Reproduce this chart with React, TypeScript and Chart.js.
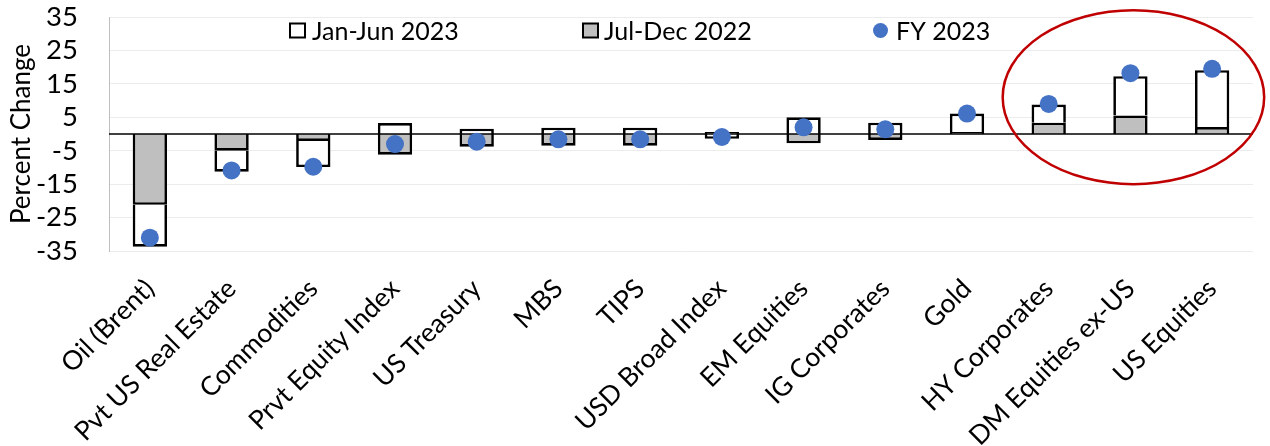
import React, { useEffect, useRef } from 'react';
import { Chart, registerables } from 'chart.js';

Chart.register(...registerables);

// ---- data ----
const categories = [
  'Oil (Brent)',
  'Pvt US Real Estate',
  'Commodities',
  'Prvt Equity Index',
  'US Treasury',
  'MBS',
  'TIPS',
  'USD Broad Index',
  'EM Equities',
  'IG Corporates',
  'Gold',
  'HY Corporates',
  'DM Equities ex-US',
  'US Equities',
];
const julDec2022 = [-21.2, -5.0, -2.1, -6.2, -3.8, -3.5, -3.5, 0.6, -2.8, -1.8, 0.6, 3.4, 5.5, 2.1];
const janJun2023 = [-12.5, -6.3, -7.8, 3.3, 1.6, 1.9, 1.9, -1.4, 5.0, 3.4, 5.5, 5.4, 11.8, 17.0];
const fy2023 = [-31.0, -10.9, -9.8, -3.0, -2.3, -1.6, -1.6, -0.9, 2.0, 1.4, 6.1, 9.0, 18.2, 19.5];
const yTickValues = [-35, -25, -15, -5, 5, 15, 25, 35];
const seriesNames = ['Jan-Jun 2023', 'Jul-Dec 2022', 'FY 2023'];
const axisTitle = 'Percent Change';
// highlighted group (index range)
const highlightFrom = 11;
const highlightTo = 13;

const FONT = 'Lato, "Open Sans", sans-serif';
const FS = 25;
const GREY = '#BFBFBF';
const BLUE = '#4472C4';

const zeroLinePlugin = {
  id: 'zeroLine',
  afterDatasetDraw(chart: any, args: any) {
    if (args.index !== 0) return;
    const { ctx, chartArea } = chart;
    const y = chart.scales.y.getPixelForValue(0);
    ctx.save();
    ctx.strokeStyle = '#000';
    ctx.lineWidth = 1.6;
    ctx.beginPath();
    ctx.moveTo(chartArea.left, y);
    ctx.lineTo(chartArea.right, y);
    ctx.stroke();
    ctx.restore();
  },
};

const overlayPlugin = {
  id: 'overlay',
  afterDraw(chart: any) {
    const { ctx, chartArea } = chart;
    const xs = chart.scales.x;
    const ys = chart.scales.y;
    ctx.save();
    // legend
    ctx.font = `${FS}px ${FONT}`;
    ctx.textBaseline = 'middle';
    ctx.textAlign = 'left';
    const cy = chartArea.top + 13.5;
    const starts = [289, 582, 873];
    ctx.lineWidth = 2;
    ctx.strokeStyle = '#000';
    ctx.fillStyle = '#fff';
    ctx.fillRect(starts[0] + 1, cy - 7, 15, 14);
    ctx.strokeRect(starts[0] + 1, cy - 7, 15, 14);
    ctx.fillStyle = '#000';
    ctx.fillText(seriesNames[0], starts[0] + 23, cy + 1);
    ctx.fillStyle = GREY;
    ctx.fillRect(starts[1] + 1, cy - 7, 15, 14);
    ctx.strokeRect(starts[1] + 1, cy - 7, 15, 14);
    ctx.fillStyle = '#000';
    ctx.fillText(seriesNames[1], starts[1] + 22, cy + 1);
    ctx.fillStyle = BLUE;
    ctx.beginPath();
    ctx.arc(starts[2] + 7.5, cy, 7.5, 0, Math.PI * 2);
    ctx.fill();
    ctx.fillStyle = '#000';
    ctx.fillText(seriesNames[2], starts[2] + 23, cy + 1);

    // red ellipse around highlighted group
    const step = xs.getPixelForValue(1) - xs.getPixelForValue(0);
    const cx = (xs.getPixelForValue(highlightFrom) + xs.getPixelForValue(highlightTo)) / 2 + 3;
    const rx = ((highlightTo - highlightFrom) / 2 + 0.6) * step;
    const ecy = ys.getPixelForValue(11);
    const ry = ys.getPixelForValue(0) - ys.getPixelForValue(26);
    ctx.strokeStyle = '#C00000';
    ctx.lineWidth = 2.5;
    ctx.beginPath();
    ctx.ellipse(cx, ecy, rx, ry, 0, 0, Math.PI * 2);
    ctx.stroke();
    ctx.restore();
  },
};

export default function App() {
  const ref = useRef<HTMLCanvasElement>(null);

  useEffect(() => {
    if (!ref.current) return;
    Chart.defaults.font.family = FONT;
    Chart.defaults.color = '#000';
    const chart = new Chart(ref.current, {
      type: 'bar',
      data: {
        labels: categories,
        datasets: [
          {
            type: 'bar',
            label: seriesNames[1],
            data: julDec2022,
            backgroundColor: GREY,
            borderColor: '#000',
            borderWidth: 2.7,
            stack: 's',
            order: 1,
            barPercentage: 0.42,
            categoryPercentage: 1,
          },
          {
            type: 'bar',
            label: seriesNames[0],
            data: janJun2023,
            backgroundColor: '#fff',
            borderColor: '#000',
            borderWidth: 2.7,
            stack: 's',
            order: 1,
            barPercentage: 0.42,
            categoryPercentage: 1,
          },
          {
            type: 'line',
            label: seriesNames[2],
            data: fy2023,
            showLine: false,
            pointRadius: 9,
            pointBorderWidth: 0,
            pointBackgroundColor: BLUE,
            pointBorderColor: BLUE,
            order: 0,
          } as any,
        ],
      },
      options: {
        animation: false,
        responsive: false,
        devicePixelRatio: 1,
        events: [],
        layout: { padding: { top: 17, right: 17, left: 0, bottom: 0 } },
        plugins: {
          legend: { display: false },
          tooltip: { enabled: false },
        },
        scales: {
          x: {
            stacked: true,
            grid: { display: false },
            border: { display: false },
            ticks: {
              autoSkip: false,
              minRotation: 45,
              maxRotation: 45,
              padding: 14,
              font: { size: 26.5, family: FONT },
              color: '#000',
            },
            afterFit(scale: any) {
              scale.height = 195;
              scale.paddingLeft = 0;
              scale.paddingRight = 0;
            },
          },
          y: {
            min: -35,
            max: 35,
            afterBuildTicks(scale: any) {
              scale.ticks = yTickValues.map((v) => ({ value: v }));
            },
            grid: { color: '#ECECEC', lineWidth: 1, drawTicks: false },
            border: { display: true, color: '#BFBFBF', width: 1 },
            ticks: {
              autoSkip: false,
              padding: 31,
              font: { size: 27.5, family: FONT },
              color: '#000',
            },
            title: {
              display: true,
              text: axisTitle,
              font: { size: 26, family: FONT },
              color: '#000',
              padding: { top: 6, bottom: 0 },
            },
            afterFit(scale: any) {
              scale.width = 109;
              scale.paddingTop = 0;
              scale.paddingBottom = 0;
            },
          },
        },
      },
      plugins: [zeroLinePlugin, overlayPlugin],
    });
    return () => chart.destroy();
  }, []);

  return (
    <div style={{ position: 'absolute', left: 0, top: 0, width: 1270, height: 446, background: '#fff' }}>
      <canvas ref={ref} width={1270} height={446} />
    </div>
  );
}
